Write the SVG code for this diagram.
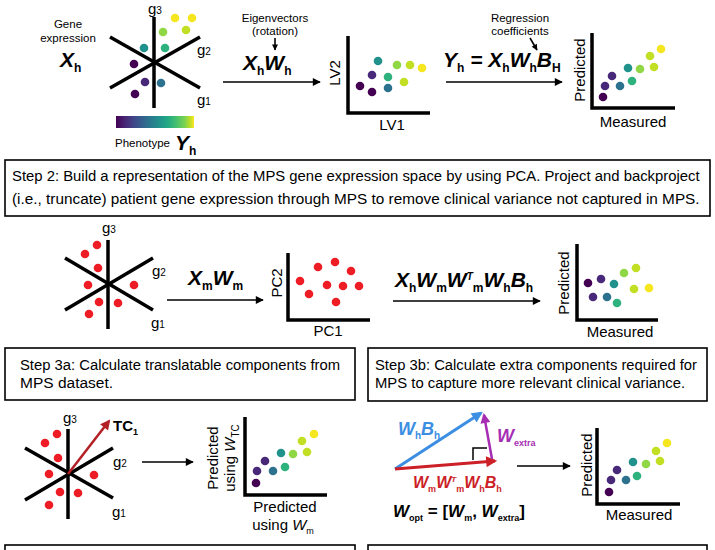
<svg xmlns="http://www.w3.org/2000/svg" width="715" height="550" viewBox="0 0 715 550">
<style>
text{font-family:"Liberation Sans",Arial,sans-serif;fill:#000}
.lbl{font-size:15px}
.sm{font-size:11.5px}
.step{font-size:15.5px}
.step3{font-size:15.5px}
.m{font-size:21px;font-weight:bold;font-style:italic}
.sub{font-size:12px;font-weight:bold;font-style:normal}
.star{stroke:#000;stroke-width:3.5;fill:none;stroke-linecap:butt}
.axis{stroke:#000;stroke-width:3.5;fill:none}
.arr{stroke:#000;stroke-width:1.6;fill:none}
.box{fill:#fff;stroke:#000;stroke-width:1.6}
.r{fill:#ee1c24}
.v0{fill:#440154}.v1{fill:#482878}.v3{fill:#2c728e}.v4{fill:#21918c}.v5{fill:#2db27d}.v7{fill:#8fd744}.v8{fill:#c2df23}.v9{fill:#f5e61f}
</style>
<defs>
<marker id="ah" viewBox="0 0 10 10" refX="9" refY="5" markerWidth="9" markerHeight="8" markerUnits="userSpaceOnUse" orient="auto"><path d="M0,0 L10,5 L0,10 z" fill="#000"/></marker>
<marker id="ahs" viewBox="0 0 10 10" refX="9" refY="5" markerWidth="7" markerHeight="6" markerUnits="userSpaceOnUse" orient="auto"><path d="M0,0 L10,5 L0,10 z" fill="#000"/></marker>
<marker id="ahr" viewBox="0 0 10 10" refX="8" refY="5" markerWidth="11" markerHeight="10" markerUnits="userSpaceOnUse" orient="auto"><path d="M0,0 L10,5 L0,10 z" fill="#b32025"/></marker>
<marker id="ahb" viewBox="0 0 10 10" refX="8" refY="5" markerWidth="12" markerHeight="11" markerUnits="userSpaceOnUse" orient="auto"><path d="M0,0 L10,5 L0,10 z" fill="#3b8ee2"/></marker>
<marker id="ahred" viewBox="0 0 10 10" refX="8" refY="5" markerWidth="12" markerHeight="11" markerUnits="userSpaceOnUse" orient="auto"><path d="M0,0 L10,5 L0,10 z" fill="#cc1f27"/></marker>
<marker id="ahm" viewBox="0 0 10 10" refX="8" refY="5" markerWidth="11" markerHeight="10" markerUnits="userSpaceOnUse" orient="auto"><path d="M0,0 L10,5 L0,10 z" fill="#a62db3"/></marker>
<linearGradient id="vir" x1="0" x2="1" y1="0" y2="0">
<stop offset="0" stop-color="#440154"/><stop offset="0.11" stop-color="#482475"/><stop offset="0.22" stop-color="#414487"/><stop offset="0.33" stop-color="#355f8d"/><stop offset="0.44" stop-color="#2a788e"/><stop offset="0.55" stop-color="#21918c"/><stop offset="0.66" stop-color="#22a884"/><stop offset="0.77" stop-color="#44bf70"/><stop offset="0.88" stop-color="#7ad151"/><stop offset="0.95" stop-color="#bddf26"/><stop offset="1" stop-color="#fde725"/>
</linearGradient>
</defs>
<rect width="715" height="550" fill="#fff"/>

<!-- Row 1 -->
<g id="gene-expression">
<text class="sm" x="68" y="28" text-anchor="middle" font-size="12">Gene</text>
<text class="sm" x="68" y="42" text-anchor="middle" font-size="12">expression</text>
<text class="m" x="60" y="67" font-size="22">X<tspan class="sub" dy="5">h</tspan></text>
</g>
<g id="star-h">
<line class="star" x1="154" y1="17" x2="154" y2="108"/>
<line class="star" x1="110" y1="37" x2="200" y2="88"/>
<line class="star" x1="110" y1="88" x2="200" y2="37"/>
<text class="lbl" x="148" y="14">g<tspan font-size="10">3</tspan></text>
<text class="lbl" x="197" y="55">g<tspan font-size="10">2</tspan></text>
<text class="lbl" x="197" y="105">g<tspan font-size="10">1</tspan></text>
<circle class="v9" cx="175" cy="18" r="4.3"/><circle class="v9" cx="192" cy="18" r="4.3"/><circle class="v8" cx="186" cy="30" r="4.3"/><circle class="v7" cx="163" cy="32" r="4.3"/><circle class="v4" cx="144" cy="48" r="4.3"/><circle class="v5" cx="165" cy="48" r="4.3"/><circle class="v0" cx="134" cy="64" r="4.3"/><circle class="v1" cx="145" cy="82" r="4.3"/><circle class="v3" cx="161" cy="83" r="4.3"/><circle class="v0" cx="135" cy="94" r="4.3"/>
</g>
<g id="phenotype">
<rect x="116" y="116" width="78" height="12" fill="url(#vir)"/>
<text class="sm" x="115" y="147">Phenotype</text>
<text class="m" x="175" y="150" font-size="20">Y<tspan class="sub" dy="5">h</tspan></text>
</g>
<g id="eigen-label">
<text class="sm" x="275" y="22" text-anchor="middle">Eigenvectors</text>
<text class="sm" x="275" y="35" text-anchor="middle">(rotation)</text>
<text class="m" x="243" y="70">X<tspan class="sub" dy="5">h</tspan><tspan dy="-5">W</tspan><tspan class="sub" dy="5">h</tspan></text>
</g>
<g id="lv-plot">
<path class="axis" d="M348,36 V113 H430"/>
<text class="lbl" transform="translate(340,73) rotate(-90)" text-anchor="middle">LV2</text>
<text class="lbl" x="392" y="130" text-anchor="middle">LV1</text>
<circle class="v4" cx="378" cy="61" r="4.3"/><circle class="v7" cx="397" cy="65" r="4.3"/><circle class="v8" cx="410" cy="65" r="4.3"/><circle class="v9" cx="422" cy="68" r="4.3"/><circle class="v1" cx="372" cy="75" r="4.3"/><circle class="v5" cx="388" cy="77" r="4.3"/><circle class="v8" cx="404" cy="82" r="4.3"/><circle class="v0" cx="360" cy="86" r="4.3"/><circle class="v3" cx="388" cy="88" r="4.3"/><circle class="v0" cx="372" cy="92" r="4.3"/>
</g>
<g id="regression-label">
<text class="sm" x="520" y="22" text-anchor="middle">Regression</text>
<text class="sm" x="520" y="35" text-anchor="middle">coefficients</text>
<text class="m" x="443" y="67">Y<tspan class="sub" dy="5">h</tspan><tspan dy="-5"> = X</tspan><tspan class="sub" dy="5">h</tspan><tspan dy="-5">W</tspan><tspan class="sub" dy="5">h</tspan><tspan dy="-5">B</tspan><tspan class="sub" dy="5">H</tspan></text>
</g>
<g id="measured-plot-1">
<path class="axis" d="M592,33 V108 H675"/>
<text class="lbl" transform="translate(585,70) rotate(-90)" text-anchor="middle">Predicted</text>
<text class="lbl" x="633" y="127" text-anchor="middle">Measured</text>
<circle class="v9" cx="661" cy="49" r="4.3"/><circle class="v8" cx="650" cy="56" r="4.3"/><circle class="v8" cx="654" cy="67" r="4.3"/><circle class="v7" cx="640" cy="69" r="4.3"/><circle class="v4" cx="628" cy="68" r="4.3"/><circle class="v5" cx="632" cy="81" r="4.3"/><circle class="v3" cx="620" cy="86" r="4.3"/><circle class="v1" cx="612" cy="76" r="4.3"/><circle class="v1" cx="605" cy="86" r="4.3"/><circle class="v0" cx="603" cy="97" r="4.3"/>
</g>

<g id="step2">
<rect class="box" x="5" y="160" width="705" height="56"/>
<text class="step" transform="translate(12,181) scale(0.9,1)" x="0" y="0" textLength="764" lengthAdjust="spacingAndGlyphs">Step 2: Build a representation of the MPS gene expression space by using PCA. Project and backproject</text>
<text class="step" transform="translate(12,204) scale(0.9,1)" x="0" y="0" textLength="764" lengthAdjust="spacingAndGlyphs">(i.e., truncate) patient gene expression through MPS to remove clinical variance not captured in MPS.</text>
</g>

<!-- Row 2 -->
<g id="star-m">
<line class="star" x1="108" y1="240" x2="108" y2="329"/>
<line class="star" x1="65" y1="258" x2="153" y2="310"/>
<line class="star" x1="65" y1="310" x2="153" y2="258"/>
<text class="lbl" x="102" y="233">g<tspan font-size="10">3</tspan></text>
<text class="lbl" x="152" y="276">g<tspan font-size="10">2</tspan></text>
<text class="lbl" x="151" y="328">g<tspan font-size="10">1</tspan></text>
<circle class="r" cx="97" cy="245" r="4.3"/><circle class="r" cx="85" cy="254" r="4.3"/><circle class="r" cx="98" cy="268" r="4.3"/><circle class="r" cx="88" cy="285" r="4.3"/><circle class="r" cx="134" cy="285" r="4.3"/><circle class="r" cx="99" cy="302" r="4.3"/><circle class="r" cx="118" cy="303" r="4.3"/><circle class="r" cx="89" cy="314" r="4.3"/>
</g>
<g id="xm-label">
<text class="m" x="188" y="285">X<tspan class="sub" dy="5">m</tspan><tspan dy="-5">W</tspan><tspan class="sub" dy="5">m</tspan></text>
</g>
<g id="pc-plot">
<path class="axis" d="M288,253 V320 H370"/>
<text class="lbl" transform="translate(282,283) rotate(-90)" text-anchor="middle">PC2</text>
<text class="lbl" x="328" y="336" text-anchor="middle">PC1</text>
<circle class="r" cx="318" cy="267" r="4.3"/><circle class="r" cx="335" cy="262" r="4.3"/><circle class="r" cx="351" cy="271" r="4.3"/><circle class="r" cx="300" cy="281" r="4.3"/><circle class="r" cx="327" cy="285" r="4.3"/><circle class="r" cx="343" cy="286" r="4.3"/><circle class="r" cx="359" cy="286" r="4.3"/><circle class="r" cx="309" cy="294" r="4.3"/><circle class="r" cx="336" cy="302" r="4.3"/>
</g>
<g id="proj-label">
<text class="m" x="395" y="287">X<tspan class="sub" dy="5">h</tspan><tspan dy="-5">W</tspan><tspan class="sub" dy="5">m</tspan><tspan dy="-5">W</tspan><tspan font-size="10" dy="-7">T</tspan><tspan class="sub" dy="12">m</tspan><tspan dy="-5">W</tspan><tspan class="sub" dy="5">h</tspan><tspan dy="-5">B</tspan><tspan class="sub" dy="5">h</tspan></text>
</g>
<g id="measured-plot-2">
<path class="axis" d="M577,244 V320 H658"/>
<text class="lbl" transform="translate(569,283) rotate(-90)" text-anchor="middle">Predicted</text>
<text class="lbl" x="620" y="337" text-anchor="middle">Measured</text>
<circle class="v0" cx="588" cy="283" r="4.3"/><circle class="v1" cx="601" cy="279" r="4.3"/><circle class="v1" cx="593" cy="297" r="4.3"/><circle class="v3" cx="607" cy="297" r="4.3"/><circle class="v4" cx="614" cy="284" r="4.3"/><circle class="v5" cx="617" cy="303" r="4.3"/><circle class="v7" cx="624" cy="273" r="4.3"/><circle class="v8" cx="636" cy="268" r="4.3"/><circle class="v8" cx="634" cy="289" r="4.3"/><circle class="v9" cx="649" cy="288" r="4.3"/>
</g>

<g id="step3a">
<rect class="box" x="5" y="348" width="350" height="52"/>
<text class="step3" x="20" y="370" textLength="320" lengthAdjust="spacingAndGlyphs">Step 3a: Calculate translatable components from</text>
<text class="step3" x="20" y="388">MPS dataset.</text>
</g>
<g id="step3b">
<rect class="box" x="368" y="348" width="339" height="53"/>
<text class="step3" x="375" y="370" textLength="322" lengthAdjust="spacingAndGlyphs">Step 3b: Calculate extra components required for</text>
<text class="step3" x="375" y="388" textLength="310" lengthAdjust="spacingAndGlyphs">MPS to capture more relevant clinical variance.</text>
</g>

<!-- Row 3 -->
<g id="star-tc">
<line class="star" x1="68" y1="429" x2="68" y2="519"/>
<line class="star" x1="25" y1="448" x2="113" y2="498"/>
<line class="star" x1="25" y1="500" x2="113" y2="448"/>
<text class="lbl" x="63" y="423">g<tspan font-size="10">3</tspan></text>
<text class="lbl" x="113" y="467">g<tspan font-size="10">2</tspan></text>
<text class="lbl" x="112" y="517">g<tspan font-size="10">1</tspan></text>
<circle class="r" cx="57" cy="434" r="4.3"/><circle class="r" cx="45" cy="443" r="4.3"/><circle class="r" cx="58" cy="458" r="4.3"/><circle class="r" cx="49" cy="474" r="4.3"/><circle class="r" cx="94" cy="475" r="4.3"/><circle class="r" cx="60" cy="492" r="4.3"/><circle class="r" cx="78" cy="493" r="4.3"/><circle class="r" cx="49" cy="505" r="4.3"/>
<line x1="68" y1="474" x2="109" y2="421" stroke="#b32025" stroke-width="2.5" marker-end="url(#ahr)"/>
<text x="113" y="431" font-size="15" font-weight="bold">TC<tspan font-size="9" dy="4">1</tspan></text>
</g>
<g id="tc-plot">
<path class="axis" d="M245,417 V495 H327"/>
<text class="lbl" transform="translate(218,458) rotate(-90)" text-anchor="middle">Predicted</text>
<text class="lbl" transform="translate(235,458) rotate(-90)" text-anchor="middle">using <tspan font-style="italic">W</tspan><tspan font-size="10" dy="4">TC</tspan></text>
<text class="lbl" x="285" y="512" text-anchor="middle">Predicted</text>
<text class="lbl" x="283" y="530" text-anchor="middle">using <tspan font-style="italic">W</tspan><tspan font-size="9" dy="4">m</tspan></text>
<circle class="v9" cx="314" cy="434" r="4.3"/><circle class="v8" cx="302" cy="441" r="4.3"/><circle class="v8" cx="307" cy="452" r="4.3"/><circle class="v7" cx="293" cy="454" r="4.3"/><circle class="v4" cx="281" cy="453" r="4.3"/><circle class="v5" cx="285" cy="467" r="4.3"/><circle class="v3" cx="273" cy="471" r="4.3"/><circle class="v1" cx="265" cy="461" r="4.3"/><circle class="v1" cx="257" cy="471" r="4.3"/><circle class="v0" cx="256" cy="483" r="4.3"/>
</g>
<g id="vectors">
<line x1="395" y1="469" x2="481" y2="413" stroke="#3b8ee2" stroke-width="3" marker-end="url(#ahb)"/>
<line x1="395" y1="469" x2="495" y2="461" stroke="#cc1f27" stroke-width="3" marker-end="url(#ahred)"/>
<line x1="492" y1="459" x2="484" y2="415" stroke="#a62db3" stroke-width="2.5" marker-end="url(#ahm)"/>
<path d="M487,448 H473 V460" fill="none" stroke="#000" stroke-width="1.5"/>
<text x="398" y="435" font-size="18" font-weight="bold" font-style="italic" style="fill:#3b8ee2">W<tspan font-size="10" font-style="normal" dy="4">h</tspan><tspan dy="-4">B</tspan><tspan font-size="10" font-style="normal" dy="4">h</tspan></text>
<text x="497" y="442" font-size="18" font-weight="bold" font-style="italic" style="fill:#a62db3">W<tspan font-size="9" font-style="normal" dy="4">extra</tspan></text>
<text x="413" y="488" font-size="16" font-weight="bold" font-style="italic" style="fill:#cc1f27">W<tspan font-size="9" font-style="normal" dy="4">m</tspan><tspan dy="-4">W</tspan><tspan font-size="8" dy="-6">T</tspan><tspan font-size="9" font-style="normal" dy="10">m</tspan><tspan dy="-4">W</tspan><tspan font-size="9" font-style="normal" dy="4">h</tspan><tspan dy="-4">B</tspan><tspan font-size="9" font-style="normal" dy="4">h</tspan></text>
<text x="393" y="517" font-size="17" font-weight="bold" font-style="italic">W<tspan font-size="9" font-style="normal" dy="4">opt</tspan><tspan font-style="normal" dy="-4"> = [</tspan>W<tspan font-size="9" font-style="normal" dy="4">m</tspan><tspan font-style="normal" dy="-4">, </tspan>W<tspan font-size="9" font-style="normal" dy="4">extra</tspan><tspan font-style="normal" dy="-4">]</tspan></text>
</g>
<g id="measured-plot-3">
<path class="axis" d="M597,428 V504 H680"/>
<text class="lbl" transform="translate(592,465) rotate(-90)" text-anchor="middle">Predicted</text>
<text class="lbl" x="639" y="520" text-anchor="middle">Measured</text>
<circle class="v9" cx="667" cy="443" r="4.3"/><circle class="v8" cx="656" cy="451" r="4.3"/><circle class="v8" cx="660" cy="461" r="4.3"/><circle class="v7" cx="646" cy="464" r="4.3"/><circle class="v4" cx="633" cy="462" r="4.3"/><circle class="v5" cx="637" cy="476" r="4.3"/><circle class="v3" cx="626" cy="480" r="4.3"/><circle class="v1" cx="617" cy="470" r="4.3"/><circle class="v1" cx="611" cy="480" r="4.3"/><circle class="v0" cx="609" cy="492" r="4.3"/>
</g>
<g id="step4-left"><rect class="box" x="5" y="545" width="350" height="20"/></g>
<g id="step4-right"><rect class="box" x="368" y="545" width="339" height="20"/></g>

<g id="connectors">
<line class="arr" x1="223" y1="82" x2="320" y2="82" marker-end="url(#ah)"/>
<line class="arr" x1="275" y1="38" x2="275" y2="50" stroke-width="1.2" marker-end="url(#ahs)"/>
<line class="arr" x1="446" y1="82" x2="562" y2="82" marker-end="url(#ah)"/>
<line class="arr" x1="530" y1="38" x2="537" y2="50" stroke-width="1.2" marker-end="url(#ahs)"/>
<line class="arr" x1="167" y1="300" x2="263" y2="300" marker-end="url(#ah)"/>
<line class="arr" x1="393" y1="301" x2="540" y2="301" marker-end="url(#ah)"/>
<line class="arr" x1="142" y1="462" x2="193" y2="462" marker-end="url(#ah)"/>
<line class="arr" x1="517" y1="466" x2="570" y2="466" marker-end="url(#ah)"/>
</g>
</svg>
